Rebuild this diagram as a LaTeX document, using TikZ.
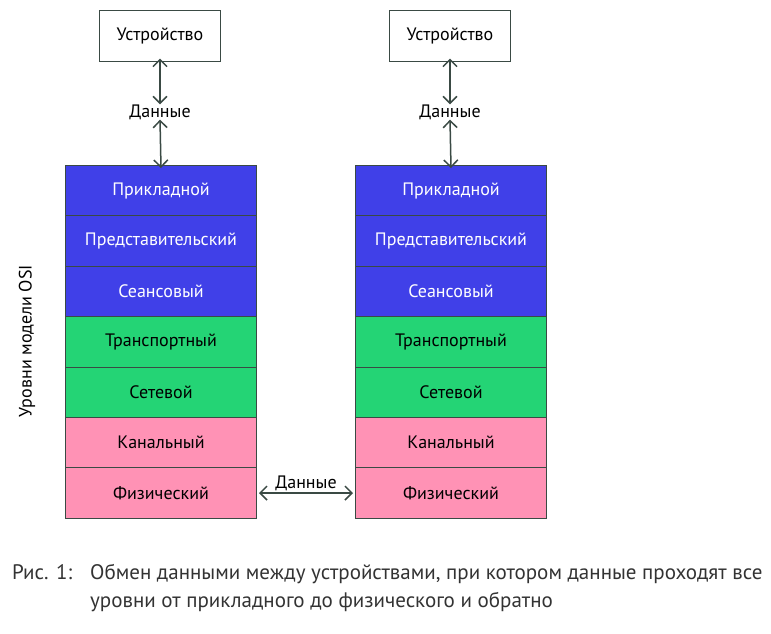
\documentclass[tikz,border=0pt]{standalone}
\usepackage{fontspec}
\setmainfont{PT Sans}
\usetikzlibrary{arrows.meta}
\definecolor{edge}{HTML}{3A4A44}
\definecolor{lblue}{HTML}{4040E8}
\definecolor{lgreen}{HTML}{24D475}
\definecolor{lpink}{HTML}{FF92B5}
\definecolor{captxt}{HTML}{333333}
\tikzset{
  dev/.style={draw=edge, line width=1pt, minimum width=121pt, minimum height=51pt, font=\fontsize{18}{21}\selectfont, inner sep=0pt},
  layer/.style={draw=edge, line width=1pt, minimum width=191pt, minimum height=50.4pt, font=\fontsize{18}{21}\selectfont, inner sep=0pt, anchor=north west},
  blue/.style={layer, fill=lblue, text=white},
  green/.style={layer, fill=lgreen, text=black},
  pink/.style={layer, fill=lpink, text=black},
  link/.style={draw=edge, line width=1.5pt, {Straight Barb[length=7pt,width=14pt]}-{Straight Barb[length=7pt,width=14pt]}},
  lbl/.style={font=\fontsize{18}{21}\selectfont, inner sep=1pt},
  captionstyle/.style={font=\fontsize{21}{28}\selectfont, text=captxt, anchor=north west, inner sep=0pt, align=left}
}
\begin{document}
\begin{tikzpicture}[x=1pt,y=-1pt]
\useasboundingbox (0,0) rectangle (771,633);
\foreach \s/\x in {L/65,R/355}{
  \node[blue]  (\s1) at (\x,165)   {Прикладной};
  \node[blue]  (\s2) at (\x,215.4) {Представительский};
  \node[blue]  (\s3) at (\x,265.8) {Сеансовый};
  \node[green] (\s4) at (\x,316.2) {Транспортный};
  \node[green] (\s5) at (\x,366.6) {Сетевой};
  \node[pink]  (\s6) at (\x,417)   {Канальный};
  \node[pink]  (\s7) at (\x,467.4) {Физический};
}
\node[dev] (devL) at (160,35.5) {Устройство};
\node[dev] (devR) at (450,35.5) {Устройство};
\node[lbl] (dL) at (160,112) {Данные};
\node[lbl] (dR) at (450,112) {Данные};
\draw[link] ([yshift=3pt]devL.south) -- ([yshift=-1pt]dL.north);
\draw[link] ([yshift=1pt]dL.south) -- ([yshift=-3pt]L1.north);
\draw[link] ([yshift=3pt]devR.south) -- ([yshift=-1pt]dR.north);
\draw[link] ([yshift=1pt]dR.south) -- ([yshift=-3pt]R1.north);
\draw[link] ([xshift=2pt]L7.east) -- node[lbl, above=1pt] (dH) {Данные} ([xshift=-2pt]R7.west);
\node[lbl, rotate=90] (osi) at (27,341) {Уровни модели OSI};
\node[captionstyle] (capnum) at (12,564) {Рис. 1:};
\node[captionstyle] (captext) at (90,564) {Обмен данными между устройствами, при котором данные проходят все\\уровни от прикладного до физического и обратно};
\end{tikzpicture}
\end{document}
